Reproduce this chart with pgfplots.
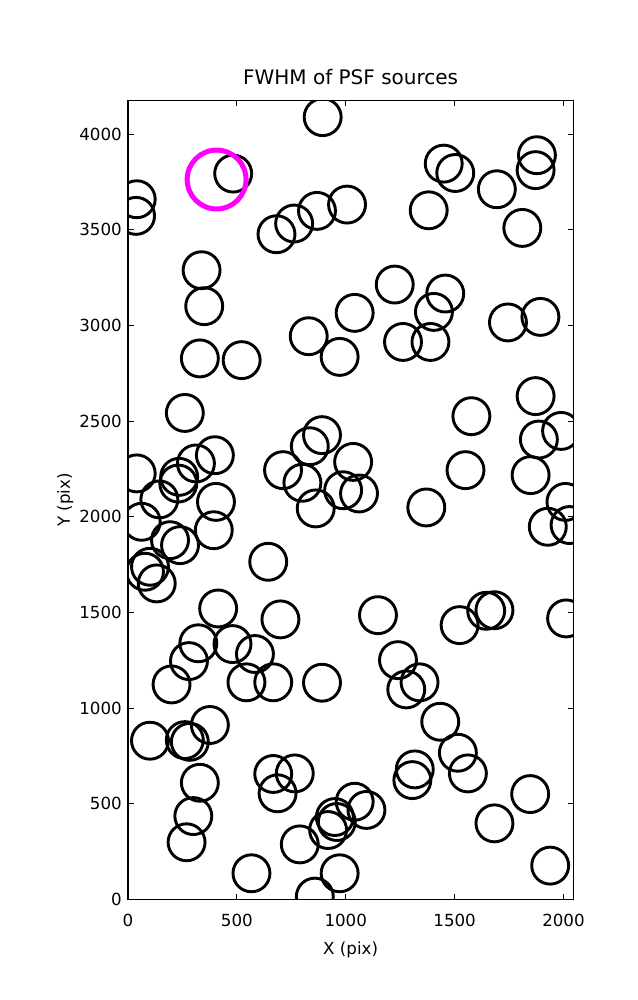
\documentclass[border=0pt]{standalone}
\usepackage{pgfplots}
\pgfplotsset{compat=1.18}
\usepackage{fontspec}
\setmainfont{DejaVu Sans}

% 1 px of the reference = 0.72pt here
\begin{document}
\begin{tikzpicture}
\path[use as bounding box] (-92.16pt,-72.5pt) rectangle (366.48pt,647.5pt);
\begin{axis}[
    at={(0,0)}, anchor=south west,
    scale only axis, width=320.6pt, height=575pt,
    xmin=0, xmax=2045, ymin=0, ymax=4174,
    xtick={0,500,...,2000}, ytick={0,500,...,4000},
    minor tick num=0,
    major tick length=4pt,
    tick style={black, line width=0.6pt},
    axis line style={line width=0.8pt},
    axis on top,
    clip marker paths=true,
    /pgf/number format/assume math mode=true,
    /pgf/number format/1000 sep={},
    ticklabel style={font=\fontsize{12}{14}\selectfont, inner sep=0pt},
    xticklabel style={anchor=base, yshift=-19.8pt},
    yticklabel style={anchor=east, xshift=-4.3pt},
    title={FWHM of PSF sources},
    title style={at={(axis description cs:0.5,1.01)}, anchor=base, inner sep=0pt,
                 font=\fontsize{14.4}{17}\selectfont},
    xlabel={X (pix)}, ylabel={Y (pix)},
    label style={font=\fontsize{12}{14}\selectfont, inner sep=0pt},
    xlabel style={at={(axis description cs:0.5,-0.0696)}, anchor=base},
    ylabel style={at={(axis description cs:-0.1304,0.5)}, anchor=base},
]
\addplot[only marks, mark=o, mark size=13.3pt, black,
         mark options={line width=2.1pt}] table {
x y
894 4088
483 3793
40 3659
37 3572
682 3476
763 3532
868 3598
1006 3631
338 3288
350 3100
330 2827
522 2818
830 2943
972 2835
1041 3065
1450 3845
1503 3796
1381 3601
1694 3711
1878 3889
1872 3811
1811 3509
1225 3213
1457 3166
1405 3070
1263 2913
1389 2913
1745 3015
1894 3044
261 2542
40 2226
235 2208
231 2173
312 2278
399 2321
144 2090
404 2077
63 1973
394 1929
193 1877
239 1851
101 1738
78 1712
132 1651
644 1764
414 1520
700 1463
712 2243
835 2368
891 2426
801 2177
862 2043
1034 2286
988 2138
1061 2121
1872 2630
1577 2525
1887 2403
1989 2448
1550 2243
1849 2217
1370 2048
2009 2077
1928 1947
2028 1956
1148 1485
1523 1433
1645 1508
1683 1511
2012 1468
323 1338
280 1245
200 1123
480 1334
583 1282
544 1134
667 1134
891 1132
101 829
261 832
284 823
376 911
330 609
300 435
269 298
667 655
766 658
687 554
567 136
858 14
789 287
919 362
950 430
959 404
1041 510
1095 467
972 136
1240 1250
1278 1097
1339 1134
1434 928
1515 766
1561 658
1317 679
1306 623
1847 550
1683 397
1939 176
};
\addplot[only marks, mark=o, mark size=21.2pt, color={rgb,255:red,255;green,0;blue,255},
         mark options={line width=3.6pt}] coordinates {(407,3762)};
\end{axis}
\end{tikzpicture}
\end{document}
